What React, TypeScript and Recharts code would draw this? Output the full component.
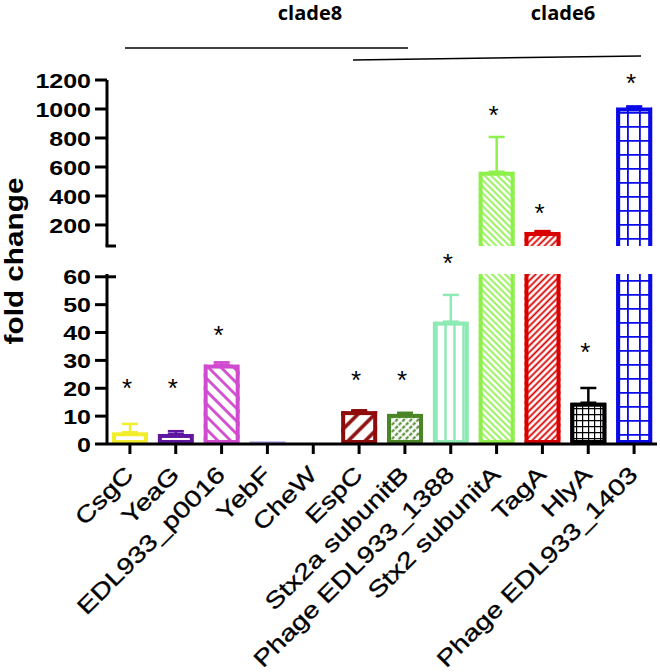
import React from 'react';
import { BarChart, Bar, XAxis, YAxis, ErrorBar } from 'recharts';

const genes = [
  'CsgC', 'YeaG', 'EDL933_p0016', 'YebF', 'CheW', 'EspC', 'Stx2a subunitB',
  'Phage EDL933_1388', 'Stx2 subunitA', 'TagA', 'HlyA', 'Phage EDL933_1403',
];
const foldChange = [4.2, 3.6, 28.5, 1, 0, 11.8, 10.8, 43.9, 567, 152, 14.8, 1010];
const errUp = [3, 1, 0.8, 0, 0, 0.3, 0.4, 9.6, 240, 6, 5.3, 8];
// height of the significance star, in the units of the segment the bar ends in
const starAt = [21.9, 21.9, 40.9, null, null, 24.8, 24.8, 66.7, 993, 317, 34.8, 1214];
const barColors = [
  '#f2ee2e', '#5e17a0', '#d04ad0', '#b9b4ee', '#888888', '#8e0c0c',
  '#4a8526', '#8eeab4', '#8ef04a', '#d90000', '#000000', '#0a0ae8',
];
const lowerTicks = [0, 10, 20, 30, 40, 50, 60];
const upperTicks = [200, 400, 600, 800, 1000, 1200];
const lowerDomain = [0, 61];
const upperDomain = [55, 1200];

const FONT = '"Liberation Sans", Arial, sans-serif';
const SW = 4;
const STRETCH = 1.19; // the figure's lettering is drawn wider than the font

const lowerRows = genes.map((gene, i) => {
  const v = foldChange[i];
  const cut = v > lowerDomain[1];
  const row: any = { gene, value: cut ? lowerDomain[1] : v, cutTop: cut, seg: 'low' };
  if (!cut && errUp[i]) row['e' + i] = [0, errUp[i]];
  return row;
});

const upperRows = genes.map((gene, i) => {
  const v = foldChange[i];
  const show = v > lowerDomain[1];
  const row: any = { gene, value: show ? v : null, seg: 'up' };
  if (show && errUp[i]) row['e' + i] = [0, errUp[i]];
  return row;
});

const fills = [
  '#fff', '#fff', 'url(#p2)', '#b9b4ee', '#fff', 'url(#p5)',
  'url(#p6)', 'url(#p7)', 'url(#p8)', 'url(#p9)', 'url(#p10)', 'url(#p11)',
];

function PatternBar(props: any) {
  const { x, y, width, height, payload } = props;
  const i = genes.indexOf(payload.gene);
  if (height == null || height <= 0 || i < 0) return null;
  const c = barColors[i];
  const h = SW / 2;
  let body;
  if (height < SW) {
    body = <rect x={x} y={y} width={width} height={height} fill={c} />;
  } else if (payload.cutTop) {
    body = (
      <g>
        <rect x={x} y={y} width={width} height={height} fill={fills[i]} />
        <path d={`M${x + h},${y} L${x + h},${y + height - h} L${x + width - h},${y + height - h} L${x + width - h},${y}`}
          fill="none" stroke={c} strokeWidth={SW} />
      </g>
    );
  } else if (payload.seg === 'up') {
    body = (
      <g>
        <rect x={x} y={y} width={width} height={height} fill={fills[i]} />
        <path d={`M${x + h},${y + height} L${x + h},${y + h} L${x + width - h},${y + h} L${x + width - h},${y + height}`}
          fill="none" stroke={c} strokeWidth={SW} />
      </g>
    );
  } else {
    body = (
      <g>
        <rect x={x} y={y} width={width} height={height} fill={fills[i]} />
        <rect x={x + h} y={y + h} width={width - SW} height={height - SW} fill="none" stroke={c} strokeWidth={SW} />
      </g>
    );
  }
  // significance star, placed with the same pixels-per-unit as the bar itself
  let star = null;
  const lvl = starAt[i];
  if (lvl != null && !payload.cutTop) {
    const base = payload.seg === 'up' ? upperDomain[0] : lowerDomain[0];
    const k = height / (payload.value - base);
    const cy = y + height - (lvl - base) * k;
    star = (
      <text x={x + width / 2 - 3} y={cy} dy={14} textAnchor="middle" fontSize={26} fontFamily={FONT} fill="#000">*</text>
    );
  }
  return <g>{body}{star}</g>;
}

function YTick(props: any) {
  const { x, y, payload } = props;
  const v = payload.value;
  if (v === upperDomain[0]) {
    return <line x1={x - 1.5} x2={x + 9} y1={y} y2={y} stroke="#000" strokeWidth={3} />;
  }
  return (
    <g>
      <line x1={x - 12} x2={x} y1={y} y2={y} stroke="#000" strokeWidth={3} />
      {v === lowerTicks[lowerTicks.length - 1] && (
        <line x1={x} x2={x + 9} y1={y} y2={y} stroke="#000" strokeWidth={3} />
      )}
      <text transform={`translate(${x - 16},${y}) scale(${STRETCH},1)`} dy="0.36em" textAnchor="end"
        fontSize={21} fontWeight="bold" fontFamily={FONT} fill="#000">
        {v}
      </text>
    </g>
  );
}

function GeneTick(props: any) {
  const { x, y, payload } = props;
  const ax = x + 5;
  const ay = y + 22;
  return (
    <text transform={`translate(${ax},${ay}) rotate(-45) scale(1.24,1)`} textAnchor="end"
      fontSize={23} fontFamily={FONT} fill="#000" stroke="#000" strokeWidth={0.3}>
      {payload.value}
    </text>
  );
}

function errorBars() {
  return genes.map((g, i) => (
    <ErrorBar key={g} dataKey={'e' + i} width={8} stroke={barColors[i]} strokeWidth={2.5} direction="y" />
  ));
}

function Patterns() {
  const hatch = (id: string, color: string, size: number, sw: number, angle: number) => (
    <pattern id={id} patternUnits="userSpaceOnUse" width={size} height={size} patternTransform={`rotate(${angle})`}>
      <rect width={size} height={size} fill="#fff" />
      <line x1={size / 2} y1={0} x2={size / 2} y2={size} stroke={color} strokeWidth={sw} />
    </pattern>
  );
  return (
    <svg width={0} height={0} style={{ position: 'absolute' }}>
      <defs>
        {hatch('p2', barColors[2], 9, 2.8, -45)}
        {hatch('p5', barColors[5], 12, 3.5, 45)}
        <pattern id="p6" patternUnits="userSpaceOnUse" width={5} height={5} patternTransform="rotate(45)">
          <rect width={5} height={5} fill="#fff" />
          <line x1={2.5} y1={0} x2={2.5} y2={3.6} stroke={barColors[6]} strokeWidth={2} />
        </pattern>
        {hatch('p7', barColors[7], 9, 2.5, 0)}
        {hatch('p8', barColors[8], 4.6, 1.8, -45)}
        {hatch('p9', barColors[9], 4.6, 1.8, 45)}
        <pattern id="p10" patternUnits="userSpaceOnUse" width={6} height={6}>
          <rect width={6} height={6} fill="#fff" />
          <path d="M0,0 H6 M0,0 V6" stroke="#000" strokeWidth={2.4} />
        </pattern>
        <pattern id="p11" patternUnits="userSpaceOnUse" x={615} y={0} width={12} height={14}>
          <rect width={12} height={14} fill="#fff" />
          <path d="M0,0 H12 M0,0 V14" stroke={barColors[11]} strokeWidth={3.6} />
        </pattern>
      </defs>
    </svg>
  );
}

export default function App() {
  return (
    <div style={{ position: 'relative', width: 660, height: 672, background: '#fff', fontFamily: FONT }}>
      <style>{'body{margin:0}'}</style>
      <Patterns />

      <div style={{ position: 'absolute', left: 0, top: 0 }}>
        <BarChart width={660} height={672} data={lowerRows} margin={{ top: 274, right: 3, bottom: 0, left: 0 }} barCategoryGap={5}>
          <XAxis
            dataKey="gene"
            interval={0}
            height={228}
            tickSize={10}
            tickMargin={0}
            axisLine={{ stroke: '#000', strokeWidth: 3 }}
            tickLine={{ stroke: '#000', strokeWidth: 3 }}
            tick={<GeneTick />}
          />
          <YAxis
            width={107}
            type="number"
            domain={lowerDomain}
            ticks={lowerTicks}
            interval={0}
            tickSize={0}
            tickMargin={0}
            tickLine={false}
            axisLine={{ stroke: '#000', strokeWidth: 3 }}
            tick={<YTick />}
          />
          <Bar dataKey="value" shape={<PatternBar />} isAnimationActive={false}>
            {errorBars()}
          </Bar>
        </BarChart>
      </div>

      <div style={{ position: 'absolute', left: 0, top: 0 }}>
        <BarChart width={660} height={260} data={upperRows} margin={{ top: 80, right: 3, bottom: 14, left: 0 }} barCategoryGap={5}>
          <XAxis dataKey="gene" hide />
          <YAxis
            width={107}
            type="number"
            domain={upperDomain}
            ticks={[upperDomain[0], ...upperTicks]}
            interval={0}
            tickSize={0}
            tickMargin={0}
            tickLine={false}
            axisLine={{ stroke: '#000', strokeWidth: 3 }}
            tick={<YTick />}
          />
          <Bar dataKey="value" shape={<PatternBar />} isAnimationActive={false}>
            {errorBars()}
          </Bar>
        </BarChart>
      </div>

      <svg width={660} height={672} style={{ position: 'absolute', left: 0, top: 0, pointerEvents: 'none' }}>
        <text transform={`translate(23,261) rotate(-90) scale(${STRETCH},1)`} textAnchor="middle"
          fontSize={25} fontWeight="bold" fontFamily={FONT} fill="#000">
          fold change
        </text>
        <text x={310} y={20} textAnchor="middle" fontSize={20} fontWeight="bold" fontFamily='"Open Sans", sans-serif' fill="#000">clade8</text>
        <text x={563} y={20} textAnchor="middle" fontSize={20} fontWeight="bold" fontFamily='"Open Sans", sans-serif' fill="#000">clade6</text>
        <line x1={125} y1={48} x2={408} y2={48} stroke="#000" strokeWidth={1.5} />
        <line x1={353} y1={60} x2={641} y2={56} stroke="#000" strokeWidth={1.5} />
      </svg>
    </div>
  );
}
